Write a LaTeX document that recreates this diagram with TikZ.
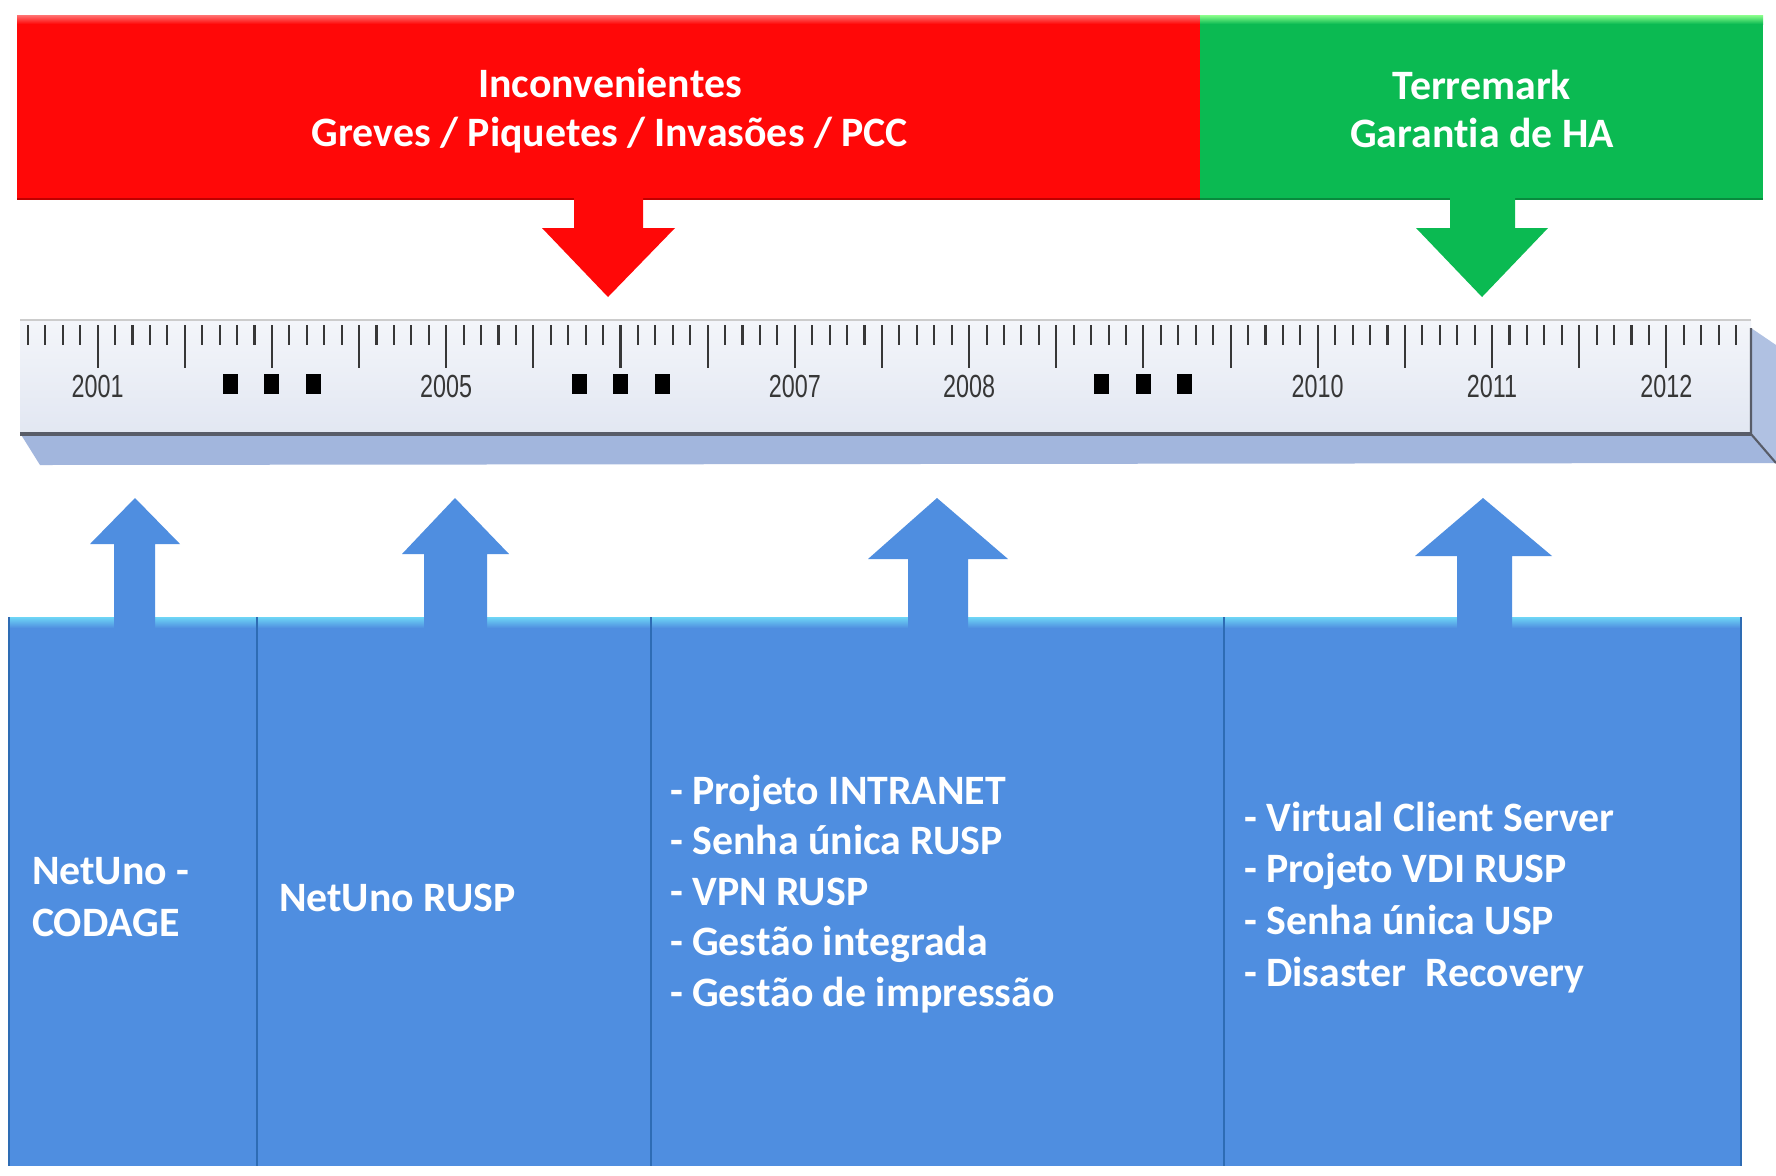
\documentclass[tikz,border=0pt]{standalone}
\usepackage{fontspec}
\setmainfont{Carlito}[Ligatures={TeX,NoCommon}]
\newfontfamily\yearfont{Liberation Sans}
\definecolor{redfill}{RGB}{255,8,8}
\definecolor{greenfill}{RGB}{11,186,82}
\definecolor{bluefill}{RGB}{79,142,224}
\definecolor{bluedark}{RGB}{46,108,180}
\definecolor{bluelight}{RGB}{110,214,246}
\definecolor{rulerface}{RGB}{226,231,242}
\definecolor{rulerband}{RGB}{162,182,221}
\definecolor{rulerline}{RGB}{88,92,104}
\definecolor{tickgray}{RGB}{55,55,55}

\begin{document}
\begin{tikzpicture}
[x=0.01cm,y=-0.01cm,%
  every node/.style={inner sep=0pt,outer sep=0pt},%
  toptext/.style={text=white,align=center,font=\fontsize{11.9}{13.9}\selectfont\bfseries},%
  item/.style={text=white,anchor=base west,font=\fontsize{11.9}{14}\selectfont\bfseries},%
  year/.style={text=tickgray,font=\yearfont\fontsize{9.1}{10}\selectfont},%
  tick/.style={draw=tickgray,line width=0.6pt},%
  divider/.style={draw=bluedark,line width=0.8pt}]
\useasboundingbox[fill=white] (0,0) rectangle (1776,1175);

% top bars
\fill[redfill] (17,15) rectangle (1200,199);
\fill[greenfill] (1200,15) rectangle (1763,199);
\shade[top color=red!55!white,bottom color=redfill] (17,15) rectangle (1200,24);
\shade[top color=green!45!white,bottom color=greenfill] (1200,15) rectangle (1763,24);
\draw[red!75!black,line width=0.6pt] (17,199) -- (1200,199);
\draw[greenfill!75!black,line width=0.6pt] (1200,199) -- (1763,199);
\node[toptext] (inc) at (610,111) {Inconvenientes\\Greves / Piquetes / Invasões / PCC};
\node[toptext] (ter) at (1482,109) {Terremark\\Garantia de HA};

% arrows down
\fill[redfill] (574,195) -- (574,228) -- (542,228) -- (608,297) -- (675,228) -- (643,228) -- (643,195) -- cycle;
\fill[greenfill] (1450,195) -- (1450,228) -- (1416,228) -- (1482,297) -- (1548,228) -- (1515,228) -- (1515,195) -- cycle;

% ruler
\fill[rulerband] (20,433) -- (1751,433) -- (1776,463) -- (40,465) -- cycle;
\fill[rulerband!85!white] (1751,328) -- (1776,345) -- (1776,463) -- (1751,433) -- cycle;
\shade[top color=rulerface!40!white,bottom color=rulerface] (20,320) rectangle (1751,433);
\draw[black!20,line width=0.5pt] (20,320) -- (1751,320);
\draw[rulerline,line width=1.1pt] (20,434) -- (1751,434);
\draw[rulerline,line width=0.6pt] (1751,328) -- (1751,434) -- (1776,463);
\foreach \i in {0,...,98}
  \draw[tick] (27.9+17.43*\i,325) -- ++(0,20);
\foreach \i in {4,9,...,94}
  \draw[tick] (27.9+17.43*\i,325) -- ++(0,43);
\foreach \yr/\k in {2001/0,2005/2,2007/4,2008/5,2010/7,2011/8,2012/9}
  \node[year] (y\yr) at (97.6+174.3*\k,386) {\scalebox{0.73}[1]{\yr}};
\foreach \k in {1,3,6}
  \foreach \d in {-41.5,0,41.5}
    \fill[black] (97.6+174.3*\k+\d-7.5,374) rectangle ++(15,20);

% boxes
\fill[bluefill] (9,617) rectangle (1741,1166);
\shade[top color=bluelight,bottom color=bluefill] (9,617) rectangle (1741,628);
\draw[divider] (9,617) -- (9,1166);
\draw[divider] (257,617) -- (257,1166);
\draw[divider] (651,617) -- (651,1166);
\draw[divider] (1224,617) -- (1224,1166);
\draw[divider] (1741,617) -- (1741,1166);

% arrows up
\fill[bluefill] (114,632) -- (114,544) -- (90,544) -- (135,498) -- (180,544) -- (155,544) -- (155,632) -- cycle;
\fill[bluefill] (424,632) -- (424,554) -- (402,554) -- (455,498) -- (509,554) -- (487,554) -- (487,632) -- cycle;
\fill[bluefill] (908,632) -- (908,559) -- (868,559) -- (937,498) -- (1008,559) -- (968,559) -- (968,632) -- cycle;
\fill[bluefill] (1457,632) -- (1457,556) -- (1415,556) -- (1483,498) -- (1552,556) -- (1512,556) -- (1512,632) -- cycle;

% texts
\node[item] (net1) at (32,884) {NetUno -};
\node[item] (cod) at (32,936) {CODAGE};
\node[item] (net2) at (279,911) {NetUno RUSP};
\foreach \t [count=\n] in {- Projeto INTRANET,- Senha única RUSP,- VPN RUSP,- Gestão integrada,- Gestão de impressão}
  \node[item] (c\n) at (670,804+50.5*\n-50.5) {\t};
\foreach \t [count=\n] in {- Virtual Client Server,- Projeto VDI RUSP,- Senha única USP,- Disaster\ \ Recovery}
  \node[item] (d\n) at (1244,831+51.7*\n-51.7) {\t};
\end{tikzpicture}
\end{document}
